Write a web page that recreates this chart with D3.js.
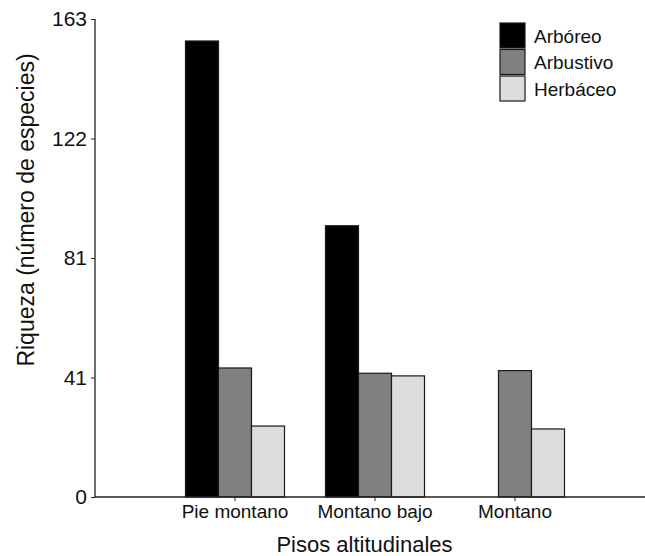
<!DOCTYPE html>
<html>
<head>
<meta charset="utf-8">
<script src="https://cdn.jsdelivr.net/npm/d3@7"></script>
<style>
  html, body { margin: 0; padding: 0; background: #fff; }
  svg { display: block; font-family: "Liberation Sans", Arial, sans-serif; }
</style>
</head>
<body>
<svg id="chart" width="645" height="556"></svg>
<script>
// Species richness by altitudinal zone and growth form
const categories = ["Pie montano", "Montano bajo", "Montano"];
const series = ["Arbóreo", "Arbustivo", "Herbáceo"];
const arboreo = [155.5, 92.5, 0];
const arbustivo = [44, 42.2, 43.1];
const herbaceo = [24.2, 41.3, 23.2];
const seriesColors = ["#000000", "#808080", "#dcdcdc"];
const yTickValues = [0, 40.75, 81.5, 122.25, 163];
const yTickLabels = ["0", "41", "81", "122", "163"];

const values = [arboreo, arbustivo, herbaceo];
const rows = categories.map((c, i) => ({
  category: c,
  items: series.map((s, j) => ({ series: s, value: values[j][i], color: seriesColors[j] }))
}));

const svg = d3.select("#chart");
const plotLeft = 95, plotBottom = 497, plotTop = 19;

const y = d3.scaleLinear().domain([0, 163]).range([plotBottom, plotTop]);
const x = d3.scaleBand().domain(categories).range([165, 585]).padding(0);
const xi = d3.scaleBand().domain(series).range([20.5, 119.5]).padding(0);

// bars
const groups = svg.append("g").selectAll("g").data(rows).join("g")
  .attr("transform", d => `translate(${x(d.category)},0)`);
groups.selectAll("rect").data(d => d.items).join("rect")
  .attr("x", d => xi(d.series))
  .attr("width", xi.bandwidth())
  .attr("y", d => y(d.value))
  .attr("height", d => y(0) - y(d.value))
  .attr("fill", d => d.color)
  .attr("stroke", "#1a1a1a")
  .attr("stroke-width", 1.2);

// y axis
const yAxis = d3.axisLeft(y).tickValues(yTickValues)
  .tickFormat((d, i) => yTickLabels[i]).tickSize(4).tickPadding(4);
const gy = svg.append("g").attr("transform", `translate(${plotLeft},0)`).call(yAxis);
gy.select(".domain").attr("stroke", "#222").attr("stroke-width", 1.3).attr("d", `M0,${plotTop}V${plotBottom}`);
gy.selectAll(".tick line").attr("stroke", "#222");
gy.selectAll(".tick text").attr("font-size", 21).attr("fill", "#111")
  .attr("font-family", "Liberation Sans, Arial, sans-serif");

// x axis
const xAxis = d3.axisBottom(x).tickSize(4).tickPadding(4);
const gx = svg.append("g").attr("transform", `translate(0,${plotBottom})`).call(xAxis);
gx.select(".domain").attr("stroke", "#222").attr("stroke-width", 1.3).attr("d", `M${plotLeft},0H645`);
gx.selectAll(".tick line").attr("stroke", "#222");
gx.selectAll(".tick text").attr("font-size", 19).attr("fill", "#111")
  .attr("font-family", "Liberation Sans, Arial, sans-serif");

// axis titles
svg.append("text").attr("x", 364.5).attr("y", 552)
  .attr("text-anchor", "middle").attr("font-size", 22).attr("fill", "#111")
  .text("Pisos altitudinales");
svg.append("text").attr("transform", "translate(34,210) rotate(-90)")
  .attr("text-anchor", "middle").attr("font-size", 23).attr("fill", "#111")
  .text("Riqueza (número de especies)");

// legend
const legend = svg.append("g").attr("transform", "translate(500,23)");
const li = legend.selectAll("g").data(series).join("g")
  .attr("transform", (d, i) => `translate(0,${i * 26.5})`);
li.append("rect").attr("width", 25).attr("height", 25)
  .attr("fill", (d, i) => seriesColors[i]).attr("stroke", "#1a1a1a").attr("stroke-width", 1.2);
li.append("text").attr("x", 34).attr("y", 19.5)
  .attr("font-size", 19).attr("fill", "#111").text(d => d);
</script>
</body>
</html>
